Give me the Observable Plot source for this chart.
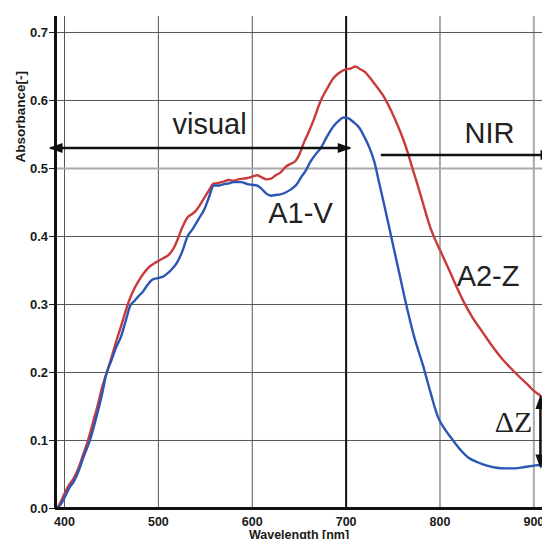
<!DOCTYPE html>
<html><head><meta charset="utf-8">
<script src="https://cdn.jsdelivr.net/npm/d3@7"></script>
<script src="https://cdn.jsdelivr.net/npm/@observablehq/plot@0.6"></script>
<style>
html,body{margin:0;padding:0;background:#fff;}
#chart svg{display:block;}
#chart [aria-label^="x-axis"] text{font-size:12.5px;}
</style></head><body><div id="chart"></div>
<script>
// ---- scales / ticks ----
const xDomain = [390.4, 909.2];
const yDomain = [0, 0.7235];
const xTicks = [400, 500, 600, 700, 800, 900];
const yTicks = [0, 0.1, 0.2, 0.3, 0.4, 0.5, 0.6, 0.7];
const xGridDark = [400, 500, 600, 800];
const xGridLight = [900];
const yGridDark = [0.1, 0.2, 0.3, 0.4, 0.6, 0.7];
const yGridLight = [0.5];
const boundaryLine = [700];

// ---- series A2-Z (red) ----
const redWl = [392,396,400,405,410,415,420,425,430,435,440,445,450,456,460,465,470,475,480,485,490,495,500,505,511,516,520,526,531,536,540,545,549,554,559,565,570,575,580,585,590,595,600,605,610,615,620,625,630,636,641,646,650,655,659,665,673,680,686,692,700,705,710,715,720,725,730,740,748,755,760,766,770,775,780,785,790,795,800,810,818,826,835,845,855,865,875,885,895,900,905,909];
const redAbs = [0.0,0.01,0.022,0.035,0.045,0.06,0.08,0.10,0.125,0.15,0.178,0.2,0.222,0.25,0.267,0.29,0.31,0.325,0.337,0.347,0.355,0.36,0.364,0.368,0.373,0.382,0.394,0.415,0.428,0.433,0.438,0.448,0.457,0.468,0.478,0.479,0.481,0.483,0.482,0.484,0.485,0.486,0.488,0.49,0.487,0.484,0.485,0.49,0.494,0.503,0.507,0.511,0.52,0.538,0.55,0.57,0.6,0.618,0.632,0.64,0.646,0.647,0.65,0.646,0.642,0.634,0.625,0.606,0.585,0.563,0.546,0.522,0.503,0.481,0.458,0.434,0.412,0.395,0.38,0.35,0.325,0.302,0.28,0.26,0.24,0.222,0.207,0.193,0.18,0.173,0.168,0.163];

// ---- series A1-V (blue) ----
const blueWl = [392,396,400,405,410,415,420,427,435,440,444,450,455,460,465,470,475,480,483,488,494,500,505,510,515,520,526,531,536,543,549,554,559,565,570,575,580,588,595,600,605,610,615,620,625,630,636,642,647,652,657,662,667,673,680,687,692,697,702,708,714,720,725,730,735,740,748,756,764,772,782,790,798,806,814,822,830,840,850,860,870,880,890,900,905,909];
const blueAbs = [0.0,0.006,0.016,0.03,0.04,0.055,0.075,0.10,0.14,0.168,0.195,0.218,0.237,0.252,0.275,0.298,0.306,0.314,0.318,0.328,0.337,0.339,0.341,0.346,0.353,0.362,0.38,0.40,0.41,0.426,0.44,0.458,0.475,0.475,0.477,0.478,0.48,0.48,0.477,0.476,0.475,0.47,0.463,0.46,0.461,0.462,0.465,0.47,0.476,0.487,0.497,0.51,0.52,0.53,0.548,0.563,0.57,0.575,0.574,0.568,0.56,0.545,0.53,0.51,0.48,0.45,0.40,0.35,0.30,0.255,0.21,0.17,0.134,0.115,0.10,0.086,0.075,0.068,0.063,0.06,0.059,0.059,0.061,0.063,0.064,0.062];

// ---- annotations ----
const labelText = ["visual", "NIR", "A1-V", "A2-Z"];
const labelWl = [554.5, 852.8, 651.4, 851.2];
const labelAbs = [0.551, 0.538, 0.42, 0.327];
const deltaText = ["ΔZ"];
const deltaWl = [878.3];
const deltaAbs = [0.113];
// arrow shafts
const shaftX1 = [385, 737, 907];
const shaftY1 = [0.530, 0.52, 0.160];
const shaftX2 = [704, 912, 907];
const shaftY2 = [0.530, 0.52, 0.066];
// arrow heads
const headRightWl = [706, 922]; const headRightAbs = [0.530, 0.52];
const headLeftWl = [383]; const headLeftAbs = [0.530];
const headUpWl = [907]; const headUpAbs = [0.167];
const headDownWl = [907]; const headDownAbs = [0.059];

const zip = (xs, ys) => xs.map((x, i) => ({x, y: ys[i]}));
const red = zip(redWl, redAbs);
const blue = zip(blueWl, blueAbs);
const labels = labelText.map((t, i) => ({t, x: labelWl[i], y: labelAbs[i]}));
const deltas = deltaText.map((t, i) => ({t, x: deltaWl[i], y: deltaAbs[i]}));
const shafts = shaftX1.map((x1, i) => ({x1, y1: shaftY1[i], x2: shaftX2[i], y2: shaftY2[i]}));

function head(dir) {
  const L = 14, H = 5;
  return {draw(ctx) {
    if (dir === "right") { ctx.moveTo(0, 0); ctx.lineTo(-L, -H); ctx.lineTo(-L, H); }
    else if (dir === "left") { ctx.moveTo(0, 0); ctx.lineTo(L, -H); ctx.lineTo(L, H); }
    else if (dir === "up") { ctx.moveTo(0, 0); ctx.lineTo(-H, L); ctx.lineTo(H, L); }
    else { ctx.moveTo(0, 0); ctx.lineTo(-H, -L); ctx.lineTo(H, -L); }
    ctx.closePath();
  }};
}

const chart = Plot.plot({
  width: 542,
  height: 539,
  marginLeft: 55,
  marginRight: 0,
  marginTop: 16,
  marginBottom: 31,
  style: {fontFamily: "'Liberation Sans', Arial, sans-serif", fontSize: "13px", fontWeight: "bold", color: "#1a1a1a", background: "#fff"},
  x: {domain: xDomain, ticks: xTicks, tickSize: 0, tickPadding: 9, label: null, tickFormat: d3.format("d")},
  y: {domain: yDomain, ticks: yTicks, tickSize: 6, tickPadding: 1.5, label: null, tickFormat: d3.format(".1f")},
  marks: [
    Plot.ruleX(xGridDark, {stroke: "#555", strokeWidth: 1}),
    Plot.ruleX(xGridLight, {stroke: "#aaa", strokeWidth: 2}),
    Plot.ruleY(yGridDark, {stroke: "#555", strokeWidth: 1}),
    Plot.ruleY(yGridLight, {stroke: "#aaa", strokeWidth: 2}),
    Plot.ruleX(boundaryLine, {stroke: "#111", strokeWidth: 2}),
    Plot.line(red, {x: "x", y: "y", stroke: "#c93a3c", strokeWidth: 2.4, curve: "monotone-x"}),
    Plot.line(blue, {x: "x", y: "y", stroke: "#2c56b6", strokeWidth: 2.4, curve: "monotone-x"}),
    Plot.ruleX([xDomain[0]], {stroke: "#111", strokeWidth: 3}),
    Plot.ruleY([yDomain[0]], {stroke: "#111", strokeWidth: 3}),
    Plot.link(shafts, {x1: "x1", y1: "y1", x2: "x2", y2: "y2", stroke: "#111", strokeWidth: 2.5}),
    Plot.dot(zip(headRightWl, headRightAbs), {x: "x", y: "y", symbol: head("right"), fill: "#111", stroke: "none"}),
    Plot.dot(zip(headLeftWl, headLeftAbs), {x: "x", y: "y", symbol: head("left"), fill: "#111", stroke: "none"}),
    Plot.dot(zip(headUpWl, headUpAbs), {x: "x", y: "y", symbol: head("up"), fill: "#111", stroke: "none"}),
    Plot.dot(zip(headDownWl, headDownAbs), {x: "x", y: "y", symbol: head("down"), fill: "#111", stroke: "none"}),
    Plot.text(labels, {x: "x", y: "y", text: "t", lineAnchor: "bottom", textAnchor: "middle", fontSize: 29, fontWeight: "normal", fill: "#222"}),
    Plot.text(deltas, {x: "x", y: "y", text: "t", lineAnchor: "bottom", textAnchor: "middle", fontSize: 30, fontWeight: "normal", fill: "#222", fontFamily: "'Liberation Serif', 'Times New Roman', serif"}),
    Plot.text(["Absorbance[-]"], {text: d => d, frameAnchor: "left", dx: -35, dy: -100, rotate: -90, fontSize: 13.5, fontWeight: "bold", fill: "#1a1a1a"}),
    Plot.text(["Wavelength [nm]"], {text: d => d, frameAnchor: "bottom", dy: 22, lineAnchor: "top", fontSize: 12.5, fontWeight: "bold", fill: "#1a1a1a"})
  ]
});
document.getElementById("chart").appendChild(chart);
</script></body></html>
